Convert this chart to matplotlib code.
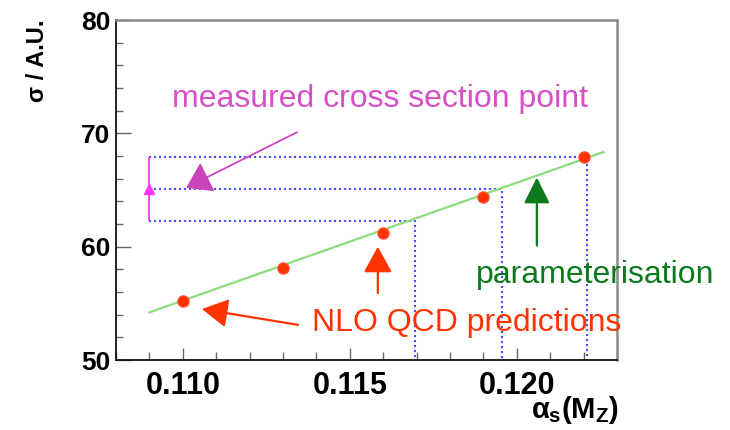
import matplotlib
matplotlib.use("Agg")
import matplotlib.pyplot as plt
from matplotlib.ticker import MultipleLocator, FormatStrFormatter

plt.rcParams["font.family"] = ["Liberation Sans", "DejaVu Sans"]
plt.rcParams["mathtext.fontset"] = "custom"
plt.rcParams["mathtext.rm"] = "Liberation Sans:bold"
plt.rcParams["mathtext.bf"] = "Liberation Sans:bold"
plt.rcParams["mathtext.it"] = "Liberation Sans:bold"

# NLO QCD predictions
alpha_s = [0.110, 0.113, 0.116, 0.119, 0.122]
sigma = [55.2, 58.1, 61.2, 64.4, 67.9]

# linear parameterisation (end points)
fit_x = [0.1090, 0.1226]
fit_y = [54.2, 68.35]

# measured cross section
meas_x = 0.1090
meas_y = 65.1
meas_lo = 62.25
meas_hi = 67.9

read_x = [0.11955, 0.11695, 0.1221]
read_y = [meas_y, meas_lo, meas_hi]

MAGENTA = "#d94fc8"
RED = "#ff3300"
GREEN = "#0b7a1c"
BLUE = "#4450ff"

fig = plt.figure(figsize=(7.3, 4.3), dpi=100)
ax = fig.add_axes([116 / 730, 70 / 430, 501 / 730, 340 / 430])

ax.set_xlim(0.108, 0.123)
ax.set_ylim(50, 80)

# blue dotted read-off lines
for rx, ry in zip(read_x, read_y):
    ax.plot([meas_x, rx, rx], [ry, ry, 50], ls=(0, (1, 1.4)), color=BLUE,
            lw=1.5, zorder=2)

ax.plot(fit_x, fit_y, color="#8edc7e", lw=1.6, zorder=3)
ax.plot(alpha_s, sigma, "o", color=RED, ms=8, mec="#ff5030", zorder=4)

ax.errorbar([meas_x], [meas_y], yerr=[[meas_y - meas_lo], [meas_hi - meas_y]],
            fmt="^", color="#ff33ff", ms=7, elinewidth=1.3, capsize=0,
            zorder=5)

# annotations
ax.annotate("", xy=(0.1101, 65.2), xytext=(0.11342, 70.1),
            arrowprops=dict(arrowstyle="-|>,head_length=0.9,head_width=0.6",
                            color="#cc44bb", lw=1.3, mutation_scale=17,
                            shrinkA=0, shrinkB=0))
ax.annotate("", xy=(0.1206, 66.1), xytext=(0.1206, 60.1),
            arrowprops=dict(arrowstyle="-|>,head_length=1.0,head_width=0.5",
                            color=GREEN, lw=1.6, mutation_scale=16,
                            shrinkA=0, shrinkB=0))
ax.annotate("", xy=(0.11584, 60.0), xytext=(0.11584, 55.9),
            arrowprops=dict(arrowstyle="-|>,head_length=1.0,head_width=0.55",
                            color=RED, lw=1.6, mutation_scale=16,
                            shrinkA=0, shrinkB=0))
ax.annotate("", xy=(0.11057, 54.5), xytext=(0.11345, 53.1),
            arrowprops=dict(arrowstyle="-|>,head_length=1.0,head_width=0.55",
                            color=RED, lw=1.6, mutation_scale=16,
                            shrinkA=0, shrinkB=0))

fig.text(172 / 730, (430 - 107) / 430, "measured cross section point",
         color=MAGENTA, fontsize=23, va="baseline", ha="left")
fig.text(476 / 730, (430 - 283) / 430, "parameterisation",
         color=GREEN, fontsize=23, va="baseline", ha="left")
fig.text(312 / 730, (430 - 331) / 430, "NLO QCD predictions",
         color=RED, fontsize=23, va="baseline", ha="left")

# axes styling (ROOT look)
ax.xaxis.set_major_locator(MultipleLocator(0.005))
ax.xaxis.set_minor_locator(MultipleLocator(0.001))
ax.yaxis.set_major_locator(MultipleLocator(10))
ax.yaxis.set_minor_locator(MultipleLocator(2))
ax.xaxis.set_major_formatter(FormatStrFormatter("%.3f"))
ax.tick_params(axis="both", which="both", direction="in", top=False,
               right=False, color="#666666", width=1)
ax.tick_params(axis="y", which="major", length=11, pad=4, labelsize=19)
ax.tick_params(axis="y", which="minor", length=5)
ax.tick_params(axis="x", which="major", length=9, pad=8, labelsize=22)
ax.tick_params(axis="x", which="minor", length=6)
for lab in ax.get_xticklabels() + ax.get_yticklabels():
    lab.set_fontweight("bold")
ax.spines["left"].set_color("#111111")
ax.spines["bottom"].set_color("#111111")
ax.spines["left"].set_linewidth(1.3)
ax.spines["bottom"].set_linewidth(1.3)
ax.spines["top"].set_color("#8a8a8a")
ax.spines["right"].set_color("#8a8a8a")
ax.spines["top"].set_linewidth(1.8)
ax.spines["right"].set_linewidth(1.8)

fig.text(38 / 730, 410 / 430, "σ / A.U.", rotation=90, ha="center",
         va="top", fontsize=17, fontweight="bold")
fig.text(619 / 730, 20 / 430, r"$\alpha_s$(M$_Z$)", ha="right",
         va="center", fontsize=21, fontweight="bold")

fig.savefig("out.png", dpi=100)
